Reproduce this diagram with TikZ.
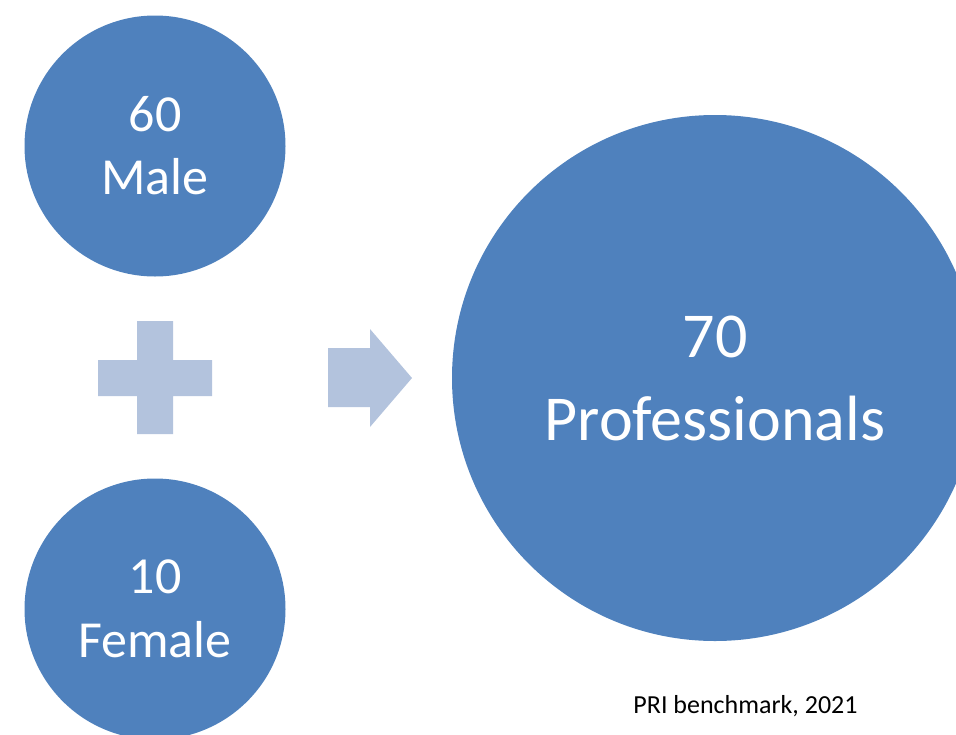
\documentclass[tikz,border=0pt]{standalone}
\usepackage{fontspec}
\setmainfont{Carlito}
\definecolor{circblue}{HTML}{4F81BD}
\definecolor{symblue}{HTML}{B3C3DD}
\begin{document}
\begin{tikzpicture}[x=1pt,y=-1pt,
  bubble/.style={circle, fill=circblue, draw=none, inner sep=0pt, text=white, align=center},
  symbol/.style={fill=symblue, draw=none}]
\useasboundingbox (0,0) rectangle (956,734);
\begin{scope}
\clip (0,0) rectangle (956,734);
\node[bubble, minimum size=261pt, font=\fontsize{52}{63}\selectfont] (male) at (155,146) {60\\Male};
\node[bubble, minimum size=261pt, font=\fontsize{52}{64}\selectfont] (female) at (155,609) {10\\Female};
\node[bubble, minimum size=526pt, font=\fontsize{64}{83}\selectfont] (pro) at (715,378) {70\\Professionals};
\end{scope}
% plus sign
\coordinate (plus) at (155,378);
\fill[symbol] (137,321) -- (173,321) -- (173,360) -- (212,360) -- (212,396) -- (173,396)
  -- (173,434) -- (137,434) -- (137,396) -- (98,396) -- (98,360) -- (137,360) -- cycle;
% arrow
\coordinate (arrowtip) at (412,378);
\fill[symbol] (328,348) -- (370,348) -- (370,329) -- (arrowtip) -- (370,427) -- (370,407) -- (328,407) -- cycle;
\node[anchor=base, font=\fontsize{26}{30}\selectfont, text=black, inner sep=0pt] (src) at (745.5,713) {PRI benchmark, 2021};
\end{tikzpicture}
\end{document}
